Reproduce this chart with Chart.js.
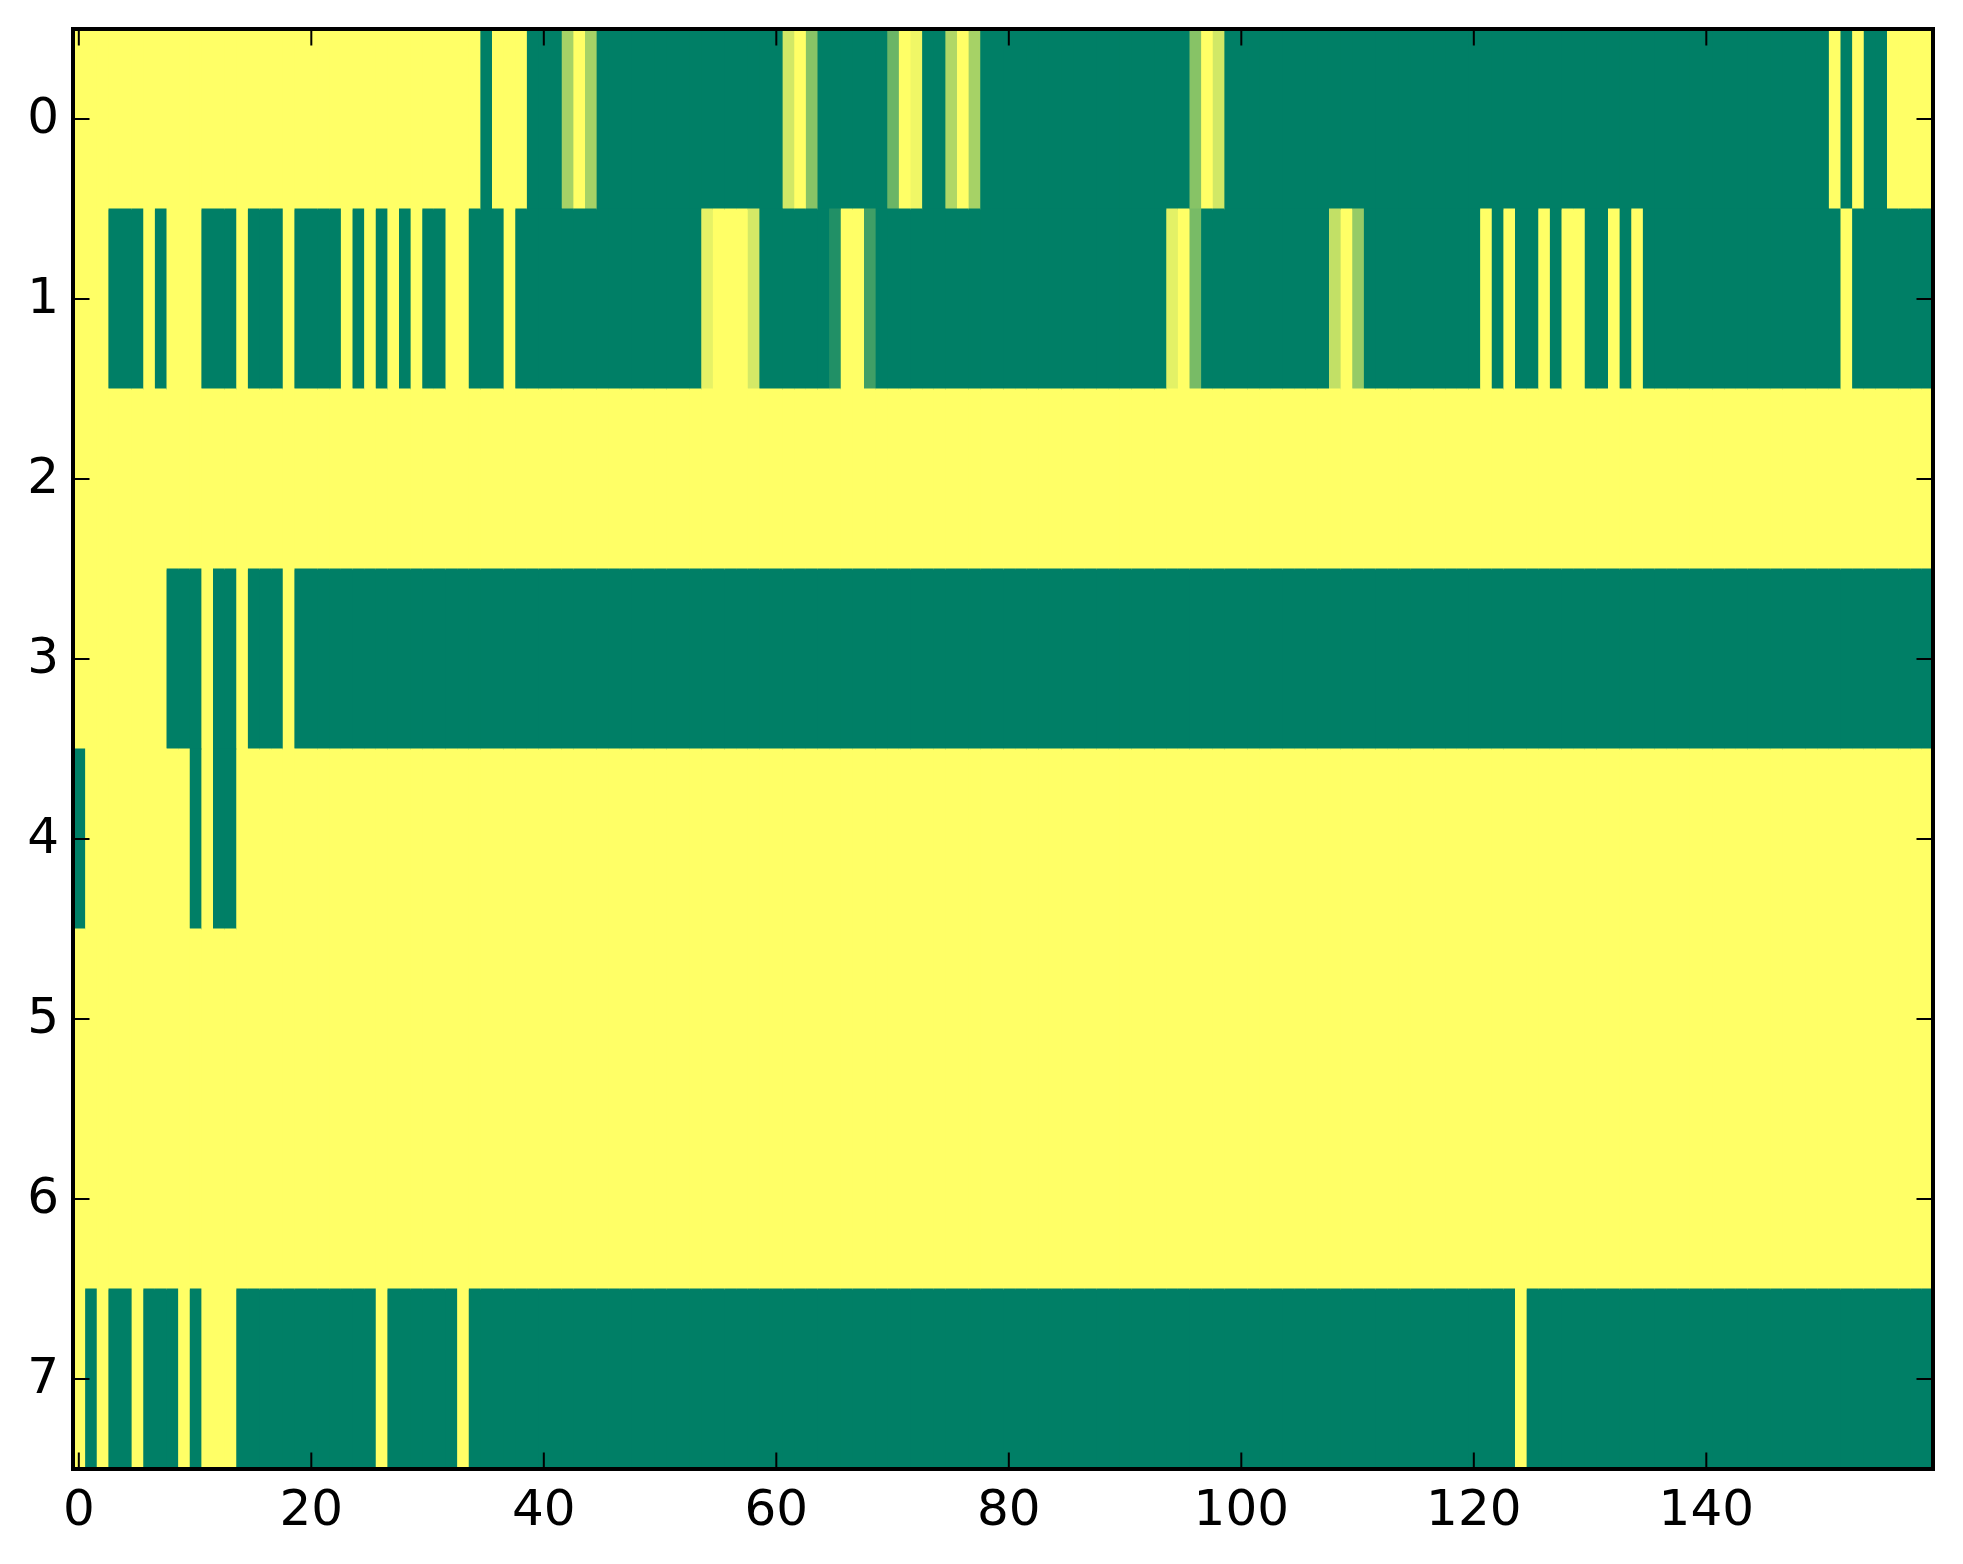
<!DOCTYPE html>
<html>
<head>
<meta charset="utf-8">
<title>Heatmap</title>
<script src="https://cdn.jsdelivr.net/npm/chart.js@4"></script>
<style>
  html, body { margin: 0; padding: 0; background: #fff; }
  canvas { display: block; }
</style>
</head>
<body>
<canvas id="grafico" width="1963" height="1564"></canvas>
<script>
const rowLabels = ["0", "1", "2", "3", "4", "5", "6", "7"];
const xTickValues = [0, 20, 40, 60, 80, 100, 120, 140];

// one value per column, 0 = green, 1 = yellow
const row0 = [
  1,1,1,1,1,1,1,1,1,1,1,1,1,1,1,1,1,1,1,1,
  1,1,1,1,1,1,1,1,1,1,1,1,1,1,1,0,1,1,1,0,
  0,0,.65,1,.65,0,0,0,0,0,0,0,0,0,0,0,0,0,0,0,
  0,.82,1,.53,0,0,0,0,0,0,.42,1,.94,0,0,.69,1,.65,0,0,
  0,0,0,0,0,0,0,0,0,0,0,0,0,0,0,0,.53,1,.82,0,
  0,0,0,0,0,0,0,0,0,0,0,0,0,0,0,0,0,0,0,0,
  0,0,0,0,0,0,0,0,0,0,0,0,0,0,0,0,0,0,0,0,
  0,0,0,0,0,0,0,0,0,0,0,1,0,1,0,0,1,1,1,1
];
const row1 = [
  1,1,1,0,0,0,1,0,1,1,1,0,0,0,1,0,0,0,1,0,
  0,0,0,1,0,1,0,1,0,1,0,0,1,1,0,0,0,1,0,0,
  0,0,0,0,0,0,0,0,0,0,0,0,0,0,.9,1,1,1,.83,0,
  0,0,0,0,0,.13,1,1,.25,0,0,0,0,0,0,0,0,0,0,0,
  0,0,0,0,0,0,0,0,0,0,0,0,0,0,.89,1,.47,0,0,0,
  0,0,0,0,0,0,0,0,.76,1,.59,0,0,0,0,0,0,0,0,0,
  0,1,0,1,0,0,1,0,1,1,0,0,1,0,1,0,0,0,0,0,
  0,0,0,0,0,0,0,0,0,0,0,0,1,0,0,0,0,0,0,0
];
const row2 = [
  1,1,1,1,1,1,1,1,1,1,1,1,1,1,1,1,1,1,1,1,
  1,1,1,1,1,1,1,1,1,1,1,1,1,1,1,1,1,1,1,1,
  1,1,1,1,1,1,1,1,1,1,1,1,1,1,1,1,1,1,1,1,
  1,1,1,1,1,1,1,1,1,1,1,1,1,1,1,1,1,1,1,1,
  1,1,1,1,1,1,1,1,1,1,1,1,1,1,1,1,1,1,1,1,
  1,1,1,1,1,1,1,1,1,1,1,1,1,1,1,1,1,1,1,1,
  1,1,1,1,1,1,1,1,1,1,1,1,1,1,1,1,1,1,1,1,
  1,1,1,1,1,1,1,1,1,1,1,1,1,1,1,1,1,1,1,1
];
const row3 = [
  1,1,1,1,1,1,1,1,0,0,0,1,0,0,1,0,0,0,1,0,
  0,0,0,0,0,0,0,0,0,0,0,0,0,0,0,0,0,0,0,0,
  0,0,0,0,0,0,0,0,0,0,0,0,0,0,0,0,0,0,0,0,
  0,0,0,0,0,0,0,0,0,0,0,0,0,0,0,0,0,0,0,0,
  0,0,0,0,0,0,0,0,0,0,0,0,0,0,0,0,0,0,0,0,
  0,0,0,0,0,0,0,0,0,0,0,0,0,0,0,0,0,0,0,0,
  0,0,0,0,0,0,0,0,0,0,0,0,0,0,0,0,0,0,0,0,
  0,0,0,0,0,0,0,0,0,0,0,0,0,0,0,0,0,0,0,0
];
const row4 = [
  0,1,1,1,1,1,1,1,1,1,0,1,0,0,1,1,1,1,1,1,
  1,1,1,1,1,1,1,1,1,1,1,1,1,1,1,1,1,1,1,1,
  1,1,1,1,1,1,1,1,1,1,1,1,1,1,1,1,1,1,1,1,
  1,1,1,1,1,1,1,1,1,1,1,1,1,1,1,1,1,1,1,1,
  1,1,1,1,1,1,1,1,1,1,1,1,1,1,1,1,1,1,1,1,
  1,1,1,1,1,1,1,1,1,1,1,1,1,1,1,1,1,1,1,1,
  1,1,1,1,1,1,1,1,1,1,1,1,1,1,1,1,1,1,1,1,
  1,1,1,1,1,1,1,1,1,1,1,1,1,1,1,1,1,1,1,1
];
const row5 = [
  1,1,1,1,1,1,1,1,1,1,1,1,1,1,1,1,1,1,1,1,
  1,1,1,1,1,1,1,1,1,1,1,1,1,1,1,1,1,1,1,1,
  1,1,1,1,1,1,1,1,1,1,1,1,1,1,1,1,1,1,1,1,
  1,1,1,1,1,1,1,1,1,1,1,1,1,1,1,1,1,1,1,1,
  1,1,1,1,1,1,1,1,1,1,1,1,1,1,1,1,1,1,1,1,
  1,1,1,1,1,1,1,1,1,1,1,1,1,1,1,1,1,1,1,1,
  1,1,1,1,1,1,1,1,1,1,1,1,1,1,1,1,1,1,1,1,
  1,1,1,1,1,1,1,1,1,1,1,1,1,1,1,1,1,1,1,1
];
const row6 = [
  1,1,1,1,1,1,1,1,1,1,1,1,1,1,1,1,1,1,1,1,
  1,1,1,1,1,1,1,1,1,1,1,1,1,1,1,1,1,1,1,1,
  1,1,1,1,1,1,1,1,1,1,1,1,1,1,1,1,1,1,1,1,
  1,1,1,1,1,1,1,1,1,1,1,1,1,1,1,1,1,1,1,1,
  1,1,1,1,1,1,1,1,1,1,1,1,1,1,1,1,1,1,1,1,
  1,1,1,1,1,1,1,1,1,1,1,1,1,1,1,1,1,1,1,1,
  1,1,1,1,1,1,1,1,1,1,1,1,1,1,1,1,1,1,1,1,
  1,1,1,1,1,1,1,1,1,1,1,1,1,1,1,1,1,1,1,1
];
const row7 = [
  1,0,1,0,0,1,0,0,0,1,0,1,1,1,0,0,0,0,0,0,
  0,0,0,0,0,0,1,0,0,0,0,0,0,1,0,0,0,0,0,0,
  0,0,0,0,0,0,0,0,0,0,0,0,0,0,0,0,0,0,0,0,
  0,0,0,0,0,0,0,0,0,0,0,0,0,0,0,0,0,0,0,0,
  0,0,0,0,0,0,0,0,0,0,0,0,0,0,0,0,0,0,0,0,
  0,0,0,0,0,0,0,0,0,0,0,0,0,0,0,0,0,0,0,0,
  0,0,0,0,1,0,0,0,0,0,0,0,0,0,0,0,0,0,0,0,
  0,0,0,0,0,0,0,0,0,0,0,0,0,0,0,0,0,0,0,0
];
const rows = [row0, row1, row2, row3, row4, row5, row6, row7];

const tickFont = { family: "'DejaVu Sans'", size: 50 };

// green to yellow
function corDoValor(v) {
  const r = Math.round(255 * v);
  const g = Math.round(127 + 128 * v);
  return "rgb(" + r + "," + g + ",102)";
}

// one dataset per column, each cell is a floating bar
const colunas = row0.map((_, c) => ({
  data: rows.map(() => [c - 0.5, c + 0.5]),
  backgroundColor: rows.map((r) => corDoValor(r[c])),
  borderWidth: 0,
  inflateAmount: 0.5, // no seams between neighbour cells
  grouped: false,
  barPercentage: 1,
  categoryPercentage: 1,
}));

// frame and inward ticks on all four sides
const moldura = {
  id: "moldura",
  afterDraw(chart) {
    const { ctx, chartArea: a, scales } = chart;
    const len = 16.5;
    ctx.save();
    ctx.strokeStyle = "#000";
    ctx.lineWidth = 2;
    ctx.beginPath();
    xTickValues.forEach((v) => {
      const x = scales.x.getPixelForValue(v);
      ctx.moveTo(x, a.top);
      ctx.lineTo(x, a.top + len);
      ctx.moveTo(x, a.bottom);
      ctx.lineTo(x, a.bottom - len);
    });
    rowLabels.forEach((_, i) => {
      const y = scales.y.getPixelForValue(i);
      ctx.moveTo(a.left, y);
      ctx.lineTo(a.left + len, y);
      ctx.moveTo(a.right, y);
      ctx.lineTo(a.right - len, y);
    });
    ctx.stroke();
    ctx.lineWidth = 4;
    ctx.strokeRect(a.left, a.top, a.right - a.left, a.bottom - a.top);
    ctx.restore();
  },
};

new Chart(document.getElementById("grafico").getContext("2d"), {
  type: "bar",
  data: { labels: rowLabels, datasets: colunas },
  plugins: [moldura],
  options: {
    indexAxis: "y",
    responsive: false,
    animation: false,
    devicePixelRatio: 1,
    layout: { padding: { top: 29, right: 30, left: 0, bottom: 0 } },
    plugins: { legend: { display: false }, tooltip: { enabled: false } },
    scales: {
      x: {
        type: "linear",
        min: -0.5,
        max: 159.5,
        afterBuildTicks(scale) {
          scale.ticks = xTickValues.map((v) => ({ value: v }));
        },
        afterFit(scale) {
          scale.height = 95;
          scale.paddingLeft = 0;
          scale.paddingRight = 0;
        },
        grid: { display: false, drawTicks: false },
        border: { display: false },
        ticks: { color: "#000", font: tickFont, padding: 13, maxRotation: 0, autoSkip: false },
      },
      y: {
        type: "category",
        offset: true,
        afterFit(scale) {
          scale.width = 73;
          scale.paddingTop = 0;
          scale.paddingBottom = 0;
        },
        grid: { display: false, drawTicks: false },
        border: { display: false },
        ticks: { color: "#000", font: tickFont, padding: 14, labelOffset: 1.5, autoSkip: false },
      },
    },
  },
});
</script>
</body>
</html>
